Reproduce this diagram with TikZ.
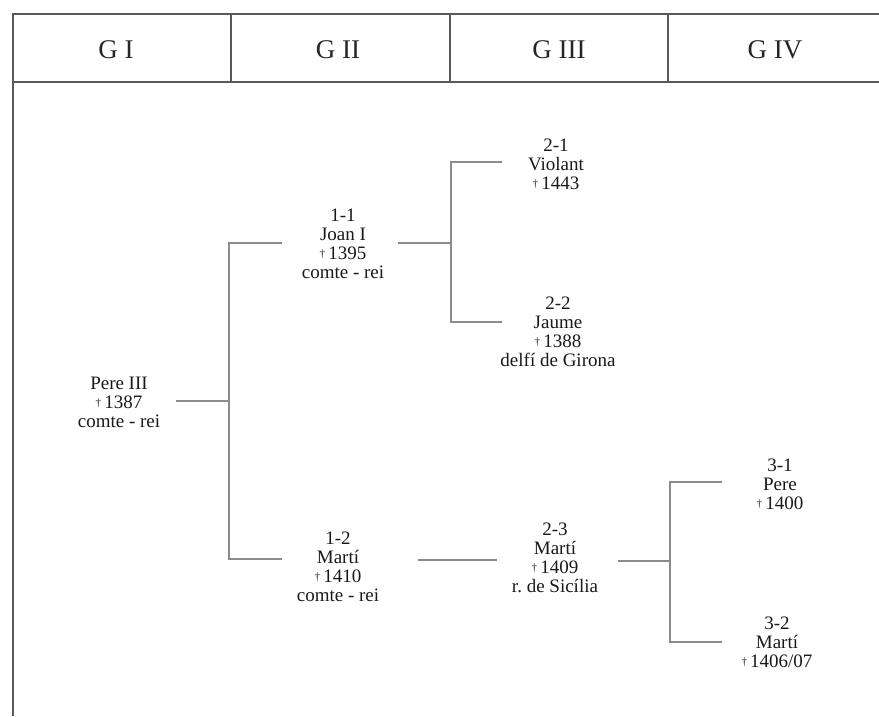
\documentclass[tikz,border=0pt]{standalone}
\usepackage{fontspec}
\setmainfont{Liberation Serif}
\frenchspacing
\newcommand{\dg}{{\fontsize{11}{11}\selectfont\raisebox{0.35ex}{†}}\,}
\begin{document}
\begin{tikzpicture}[x=1pt,y=-1pt,
  frame/.style={draw=black!65,line width=1.1pt},
  link/.style={draw=black!45,line width=1.3pt},
  head/.style={font=\fontsize{27}{30}\selectfont,text=black!85},
  person/.style={align=center,inner sep=0pt,font=\fontsize{19}{19}\selectfont,text=black!90}]
\useasboundingbox (0,0) rectangle (879,716);
% header frame
\coordinate (tl) at (13,14);
\coordinate (tr) at (879,14);
\coordinate (hl) at (13,82);
\coordinate (hr) at (879,82);
\coordinate (bl) at (13,716);
\draw[frame] (tr) -- (tl) -- (bl);
\draw[frame] (hl) -- (hr);
\coordinate (d1t) at (231,14); \coordinate (d1b) at (231,82);
\coordinate (d2t) at (450,14); \coordinate (d2b) at (450,82);
\coordinate (d3t) at (668,14); \coordinate (d3b) at (668,82);
\draw[frame] (d1t) -- (d1b) (d2t) -- (d2b) (d3t) -- (d3b);
\node[head] (h1) at (116,50) {G I};
\node[head] (h2) at (338,50) {G II};
\node[head] (h3) at (559,50) {G III};
\node[head] (h4) at (775,50) {G IV};
% persons
\node[person] (pere) at (119,402) {Pere III\\\dg 1387\\comte - rei};
\node[person] (joan) at (343,244) {1-1\\Joan I\\\dg 1395\\comte - rei};
\node[person] (violant) at (556,164) {2-1\\Violant\\\dg 1443};
\node[person] (jaume) at (558,332) {2-2\\Jaume\\\dg 1388\\delfí de Girona};
\node[person] (marti1) at (338,567) {1-2\\Martí\\\dg 1410\\comte - rei};
\node[person] (marti2) at (555,558) {2-3\\Martí\\\dg 1409\\r.\ de Sicília};
\node[person] (pere31) at (780,484) {3-1\\Pere\\\dg 1400};
\node[person] (marti32) at (777,642) {3-2\\Martí\\\dg 1406/07};
% connector points
\coordinate (pereR) at (176,401);
\coordinate (bA) at (229,401);
\coordinate (bAt) at (229,243);
\coordinate (bAb) at (229,559);
\coordinate (joanL) at (282,243);
\coordinate (martiL) at (282,559);
\coordinate (joanR) at (398,243);
\coordinate (bBm) at (451,243);
\coordinate (bBt) at (451,162);
\coordinate (bBb) at (451,322);
\coordinate (violantL) at (502,162);
\coordinate (jaumeL) at (502,322);
\coordinate (martiR) at (418,560);
\coordinate (marti2L) at (497,560);
\coordinate (marti2R) at (618,561);
\coordinate (bCm) at (670,561);
\coordinate (bCt) at (670,482);
\coordinate (bCb) at (670,642);
\coordinate (p31L) at (722,482);
\coordinate (m32L) at (722,642);
% connectors
\draw[link] (pereR) -- (bA);
\draw[link] (joanL) -- (bAt) -- (bAb) -- (martiL);
\draw[link] (joanR) -- (bBm);
\draw[link] (violantL) -- (bBt) -- (bBb) -- (jaumeL);
\draw[link] (martiR) -- (marti2L);
\draw[link] (marti2R) -- (bCm);
\draw[link] (p31L) -- (bCt) -- (bCb) -- (m32L);
\end{tikzpicture}
\end{document}
